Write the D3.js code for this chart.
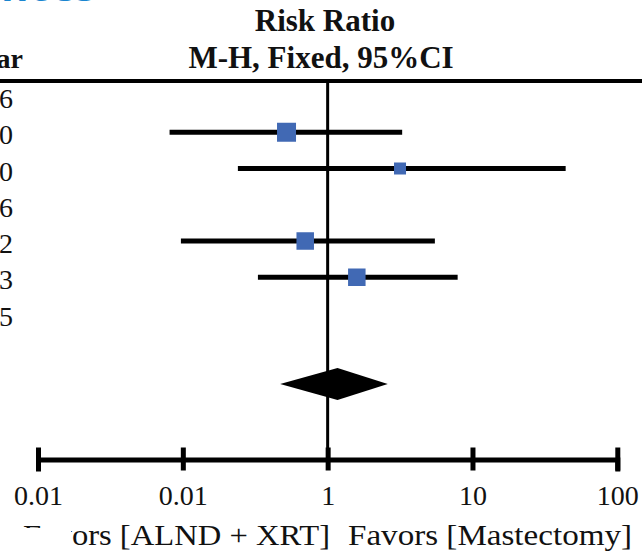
<!DOCTYPE html>
<html>
<head>
<meta charset="utf-8">
<script src="https://cdn.jsdelivr.net/npm/d3@7"></script>
<style>
  html, body { margin: 0; padding: 0; background: #fff; }
  svg { display: block; }
  text { font-family: "Liberation Serif", "Times New Roman", serif; fill: #111; }
</style>
</head>
<body>
<div id="wrapper"></div>
<script>
// 1. Data
const yearDigits = ["6", "0", "0", "6", "2", "3", "5"]
const riskRatio = [null, 0.52, 3.16, null, 0.70, 1.59, null]
const ciLower = [null, 0.081, 0.24, null, 0.097, 0.33, null]
const ciUpper = [null, 3.27, 44, null, 5.5, 7.9, null]
const weights = [null, 32.3, 12.9, null, 27.4, 27.4, null]
const pooled = { rr: 1.17, lo: 0.47, hi: 2.6 }
const tickValues = [0.01, 0.1, 1, 10, 100]
const tickLabels = ["0.01", "0.01", "1", "10", "100"]
const favorsLeft = "Favors [ALND + XRT]"
const favorsRight = "Favors [Mastectomy]"

const studies = yearDigits.map((d, i) => ({
  year: d, rr: riskRatio[i], lo: ciLower[i], hi: ciUpper[i], w: weights[i], row: i
}))

// 2. Dimensions
const width = 642
const height = 554
const axisY = 459.5

// 3. Canvas
const svg = d3.select("#wrapper")
  .append("svg")
  .attr("width", width)
  .attr("height", height)

// 4. Scales
const xScale = d3.scaleLog()
  .domain([0.01, 100])
  .range([38, 617.3])

const yScale = d3.scalePoint()
  .domain(d3.range(9))
  .range([96, 386])

const sizeScale = d3.scaleSqrt()
  .domain([0, d3.max(weights)])
  .range([0, 19])

// 5. Peripherals
// cut-off blue heading at the very top
svg.append("text")
  .attr("x", 96)
  .attr("y", 1)
  .attr("text-anchor", "end")
  .style("font-family", "'Open Sans', sans-serif")
  .style("font-weight", "bold")
  .style("font-size", "42px")
  .style("fill", "#1a86d0")
  .text("Differences")

svg.append("text")
  .attr("x", 325)
  .attr("y", 31)
  .attr("text-anchor", "middle")
  .style("font-weight", "bold")
  .style("font-size", "31px")
  .text("Risk Ratio")

svg.append("text")
  .attr("x", 321)
  .attr("y", 68)
  .attr("text-anchor", "middle")
  .style("font-weight", "bold")
  .style("font-size", "31px")
  .text("M-H, Fixed, 95%CI")

svg.append("text")
  .attr("x", 23)
  .attr("y", 68)
  .attr("text-anchor", "end")
  .style("font-weight", "bold")
  .style("font-size", "28px")
  .text("Year")

svg.append("line")
  .attr("x1", 0).attr("x2", width)
  .attr("y1", 81).attr("y2", 81)
  .attr("stroke", "#000")
  .attr("stroke-width", 4)

svg.selectAll(".year")
  .data(studies)
  .join("text")
  .attr("class", "year")
  .attr("x", 13)
  .attr("y", d => yScale(d.row) + 12)
  .attr("text-anchor", "end")
  .style("font-size", "28px")
  .text(d => d.year)

// line of no effect
svg.append("line")
  .attr("x1", xScale(1)).attr("x2", xScale(1))
  .attr("y1", 81).attr("y2", 469)
  .attr("stroke", "#000")
  .attr("stroke-width", 3)

// 6. Data
const withData = studies.filter(d => d.rr != null)

svg.selectAll(".ci")
  .data(withData)
  .join("line")
  .attr("class", "ci")
  .attr("x1", d => xScale(d.lo))
  .attr("x2", d => xScale(d.hi))
  .attr("y1", d => yScale(d.row))
  .attr("y2", d => yScale(d.row))
  .attr("stroke", "#000")
  .attr("stroke-width", 5)

svg.selectAll(".box")
  .data(withData)
  .join("rect")
  .attr("class", "box")
  .attr("x", d => xScale(d.rr) - sizeScale(d.w) / 2)
  .attr("y", d => yScale(d.row) - sizeScale(d.w) / 2)
  .attr("width", d => sizeScale(d.w))
  .attr("height", d => sizeScale(d.w))
  .attr("fill", "#4169b4")

const dy = yScale(8) - 2
svg.append("path")
  .attr("d", `M${xScale(pooled.lo)},${dy}L${xScale(pooled.rr)},${dy - 16}L${xScale(pooled.hi)},${dy}L${xScale(pooled.rr)},${dy + 16}Z`)
  .attr("fill", "#000")

// 7. Axis
const xAxisGenerator = d3.axisBottom(xScale)
  .tickValues(tickValues)
  .tickFormat((d, i) => tickLabels[i])
  .tickSizeOuter(0)
  .tickSize(12)

const xAxis = svg.append("g")
  .attr("transform", `translate(0, ${axisY})`)
  .call(xAxisGenerator)

xAxis.select(".domain")
  .attr("stroke", "#000")
  .attr("stroke-width", 5)
xAxis.selectAll(".tick line")
  .attr("y1", -12)
  .attr("y2", 11)
  .attr("stroke", "#000")
  .attr("stroke-width", 5)
xAxis.selectAll(".tick text")
  .attr("y", 45)
  .attr("dy", 0)
  .style("font-family", "'Liberation Serif', serif")
  .style("font-size", "28px")
  .style("fill", "#111")

svg.append("text")
  .attr("x", 330)
  .attr("y", 545)
  .attr("text-anchor", "end")
  .attr("textLength", 307)
  .attr("lengthAdjust", "spacingAndGlyphs")
  .style("font-size", "29px")
  .text(favorsLeft)

svg.append("text")
  .attr("x", 348)
  .attr("y", 545)
  .attr("textLength", 284)
  .attr("lengthAdjust", "spacingAndGlyphs")
  .style("font-size", "29px")
  .text(favorsRight)

// white patch hiding part of the left caption
svg.append("rect")
  .attr("x", 15).attr("y", 528)
  .attr("width", 56).attr("height", 26)
  .attr("fill", "#fff")
</script>
</body>
</html>
